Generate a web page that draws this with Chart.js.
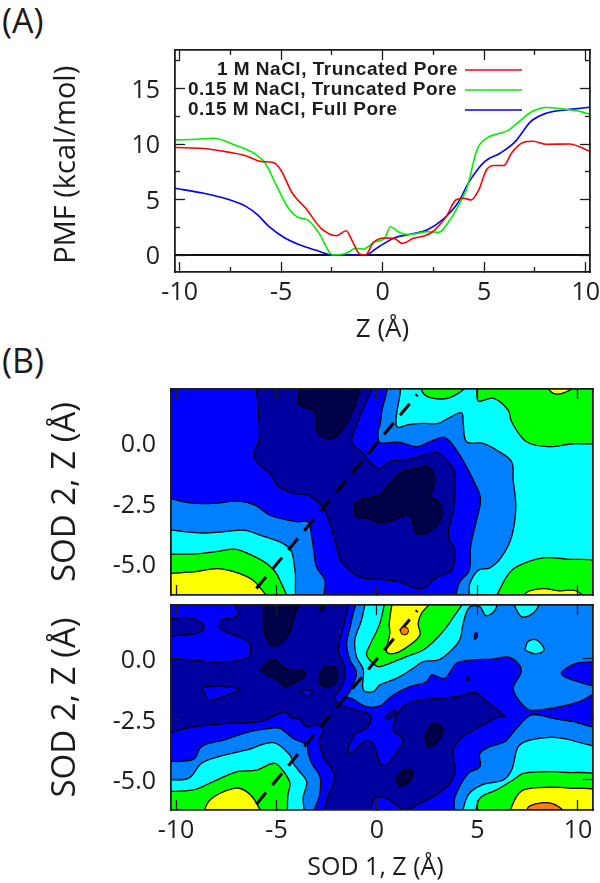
<!DOCTYPE html>
<html>
<head>
<meta charset="utf-8">
<title>PMF</title>
<script src="https://cdn.jsdelivr.net/npm/chart.js@4/dist/chart.umd.min.js"></script>
<style>
  body { margin: 0; background: #fff; }
  #page { position: relative; width: 600px; height: 883px; overflow: hidden; }
  canvas { position: absolute; left: 0; }
  .tag { position: absolute; left: 2px; font: 34px "Open Sans"; color: #1a1a1a; }
</style>
</head>
<body>
<div id="page">
  <div class="tag" style="top:-3px">(A)</div>
  <div class="tag" style="top:337px">(B)</div>
  <canvas id="pmf" style="top:0"></canvas>
  <canvas id="mapTop" style="top:345px"></canvas>
  <canvas id="mapBottom" style="top:600px"></canvas>
</div>
<script>
// panel A
const seriesNames = ['1 M NaCl, Truncated Pore', '0.15 M NaCl, Truncated Pore', '0.15 M NaCl, Full Pore'];
const pmfRed = [[-10.23,9.68],[-8.81,9.59],[-7.67,9.29],[-6.72,8.93],[-5.97,8.42],[-5.40,8.33],[-5.02,7.66],[-4.45,5.56],[-3.79,4.21],[-3.03,2.40],[-2.27,1.74],[-1.80,2.19],[-1.52,1.35],[-1.14,0.09],[-0.85,0],[-0.47,1.11],[0.09,1.53],[0.57,1.50],[0.95,1.05],[1.52,1.50],[2.18,1.80],[2.56,2.25],[3.13,3.46],[3.60,4.96],[3.98,5.11],[4.36,4.96],[4.73,5.86],[5.11,7.66],[5.49,8.06],[5.97,8.06],[6.34,9.17],[6.91,10.13],[7.39,10.25],[8.05,9.98],[9.19,10.0],[10.23,9.32]];
const pmfGreen = [[-10.23,10.37],[-9.19,10.43],[-8.33,10.52],[-7.29,9.92],[-6.34,9.17],[-5.78,8.27],[-5.21,6.16],[-4.64,4.21],[-4.17,3.40],[-3.69,3.16],[-3.13,1.95],[-2.46,0],[-1.80,0.15],[-1.33,0.60],[-0.95,0.54],[-0.38,1.20],[0.09,1.50],[0.38,2.55],[0.76,2.10],[1.14,1.86],[1.70,1.95],[2.18,2.10],[2.75,2.04],[3.31,3.16],[3.88,4.96],[4.17,6.16],[4.64,9.47],[5.11,10.52],[5.59,10.88],[6.16,11.21],[6.72,12.02],[7.29,12.86],[8.05,13.29],[9.0,13.13],[9.75,12.92],[10.23,12.65]];
const pmfBlue = [[-10.23,6.01],[-8.81,5.56],[-7.67,5.05],[-6.72,4.36],[-6.16,3.61],[-5.59,2.55],[-4.92,1.65],[-4.07,0.90],[-3.31,0.45],[-2.46,0],[-1.80,0],[-0.85,0],[-0.19,0.75],[0.66,1.59],[1.42,1.89],[2.18,2.25],[2.94,3.16],[3.69,4.66],[4.26,6.61],[5.02,8.42],[5.78,9.17],[6.53,10.22],[7.29,12.02],[8.05,12.77],[9.0,13.07],[9.75,13.22],[10.23,13.32]];
const pmfZero = [[-10.23,0],[10.21,0]];
const pmfXLabels = [-10, -5, 0, 5, 10];
const pmfXMinor = [-7.5, -2.5, 2.5, 7.5];
const pmfYLabels = [0, 5, 10, 15];
const pmfYMinor = [2.5, 7.5, 12.5, 17.5];

// panel B, shared
const mapXLabels = [-10, -5, 0, 5, 10];
const mapYLabels = [0, -2.5, -5];
const diagonal = [[-6,-6],[2,2]];
const sodMark = [[1.37,1.16]];

// panel B, upper map
const topCyan = [[-10.6,2.6],[11.1,2.6],[11.1,-6.6],[-10.6,-6.6]];
const topGreenMid = [[2.05,2.6],[2.38,1.98],[3.30,1.82],[4.04,2.05],[4.70,2.6]];
const topGreenRight = [[5.0,2.6],[5.04,1.74],[5.78,1.85],[6.53,1.36],[6.70,0.88],[7.44,0.05],[8.52,-0.15],[9.60,-0.04],[11.1,0.15],[11.1,2.6]];
const topYellowRight = [[8.27,2.6],[8.77,2.05],[9.6,2.19],[9.93,2.6]];
const topGreenLow = [[5.78,-6.6],[6.45,-5.52],[6.94,-5.11],[8.27,-4.74],[9.43,-4.79],[11.1,-5.0],[11.1,-6.6]];
const topYellowLow = [[7.28,-6.6],[7.44,-6.17],[8.27,-6.01],[9.10,-6.10],[9.93,-6.10],[10.43,-6.6]];
const topGreenLeft = [[-10.6,-4.59],[-8.81,-4.56],[-7.81,-4.46],[-7.15,-4.38],[-6.49,-4.53],[-5.49,-4.97],[-4.91,-5.52],[-4.61,-6.6],[-10.6,-6.6]];
const topYellowLeft = [[-10.6,-5.39],[-9.14,-5.32],[-7.90,-5.18],[-6.82,-5.39],[-6.07,-5.73],[-5.49,-6.6],[-10.6,-6.6]];
const topAzure = [[-10.6,-3.55],[-8.81,-3.71],[-7.65,-3.66],[-6.57,-3.60],[-5.82,-3.80],[-4.66,-4.15],[-4.25,-4.49],[-4.08,-5.25],[-3.75,-6.6],[4.42,-6.6],[4.62,-5.80],[5.04,-5.25],[5.62,-5.15],[6.20,-4.70],[6.70,-3.87],[6.91,-2.63],[6.78,-1.53],[6.70,-0.77],[5.95,-0.29],[5.29,-0.01],[4.46,0.05],[4.29,0.81],[4.21,1.25],[3.54,1.02],[3.05,0.81],[2.30,0.81],[1.64,0.77],[0.97,0.70],[0.89,2.6],[-10.6,2.6]];
const topBlue = [[-10.6,-2.22],[-9.31,-2.47],[-8.15,-2.49],[-6.90,-2.40],[-6.07,-2.56],[-5.33,-2.98],[-4.0,-3.25],[-3.42,-3.25],[-3.25,-3.87],[-3.17,-4.28],[-3.01,-5.11],[-2.59,-5.66],[-2.51,-6.6],[3.63,-6.6],[4.12,-5.73],[4.59,-5.25],[4.66,-4.28],[4.95,-3.18],[5.15,-2.29],[4.79,-1.53],[4.12,-0.50],[3.38,0.23],[2.63,0.05],[1.97,-0.15],[1.14,0.03],[0.145,0.01],[0.06,0.19],[0.06,0.54],[0.145,0.74],[0.23,1.23],[0.31,2.6],[-10.6,2.6]];
const topDark = [[-6.04,2.6],[-5.91,1.36],[-5.86,0.12],[-6.11,-0.36],[-5.99,-0.77],[-5.24,-1.32],[-4.96,-1.74],[-4.17,-2.08],[-3.42,-2.15],[-2.67,-2.70],[-2.34,-3.32],[-2.01,-4.28],[-1.76,-4.90],[-0.85,-5.52],[0.145,-5.62],[1.14,-5.73],[1.97,-6.01],[2.47,-5.94],[2.88,-5.59],[3.71,-5.25],[3.88,-4.42],[3.54,-3.87],[3.83,-2.63],[3.88,-1.32],[3.79,-1.05],[3.13,-0.43],[2.63,-0.43],[1.80,-0.63],[0.64,-0.77],[0.145,-1.05],[-0.19,-0.91],[-0.44,-0.70],[-0.68,-0.43],[-1.26,0.05],[-0.85,1.09],[-0.40,2.6]];
const topNavyUpper = [[-3.75,2.6],[-3.88,1.61],[-3.09,1.29],[-3.01,0.54],[-2.34,0.15],[-1.68,0.61],[-1.18,1.43],[-0.90,2.6]];
const topNavyLower = [[-0.68,-2.29],[-1.10,-2.56],[-1.02,-3.04],[-0.44,-3.11],[0.145,-3.28],[0.81,-3.18],[1.64,-2.98],[1.89,-3.60],[2.22,-3.77],[2.80,-3.53],[3.21,-3.04],[3.13,-2.49],[2.63,-2.15],[2.80,-1.87],[2.83,-1.32],[2.55,-0.98],[1.97,-1.05],[1.31,-1.18],[0.64,-1.67],[0.145,-2.15]];

// panel B, lower map
const lowAzure = [[-10.6,2.6],[11.1,2.6],[11.1,-6.6],[-10.6,-6.6]];
const lowCyanLeft = [[-10.6,-4.97],[-9.39,-4.93],[-8.73,-4.31],[-7.90,-4.04],[-6.49,-3.76],[-5.16,-3.46],[-4.33,-3.97],[-4.17,-4.31],[-3.92,-4.59],[-3.50,-5.07],[-3.67,-5.69],[-3.79,-6.6],[-10.6,-6.6]];
const lowGreenLeft = [[-10.6,-5.48],[-9.14,-5.41],[-8.15,-5.07],[-6.99,-4.66],[-5.99,-4.59],[-5.08,-4.31],[-4.58,-4.73],[-4.33,-5.14],[-4.42,-5.55],[-4.71,-6.6],[-10.6,-6.6]];
const lowYellowLeft = [[-8.73,-6.6],[-8.31,-5.83],[-7.07,-5.34],[-6.49,-5.48],[-5.99,-5.96],[-5.78,-6.6]];
const lowCyanRight = [[4.17,-6.6],[4.54,-5.62],[5.20,-5.21],[6.28,-5.00],[6.70,-4.59],[7.03,-3.62],[7.61,-3.35],[8.77,-3.24],[9.93,-3.42],[11.1,-3.85],[11.1,-6.6]];
const lowGreenRight = [[4.84,-6.6],[5.12,-5.76],[5.95,-5.41],[6.78,-5.00],[7.28,-4.73],[8.27,-4.66],[9.27,-4.68],[11.1,-4.9],[11.1,-6.6]];
const lowYellowRight = [[6.48,-6.6],[6.94,-5.69],[7.36,-5.39],[8.60,-5.30],[9.60,-5.34],[11.1,-5.5],[11.1,-6.6]];
const lowOrangeRight = [[7.28,-6.6],[7.61,-6.07],[8.77,-5.99],[9.51,-6.6]];
const lowCyanMid = [[-0.52,2.6],[-0.77,1.61],[-1.10,0.79],[-1.02,0.10],[-0.68,-0.45],[-0.68,-1.28],[-0.19,-1.35],[0.145,-1.07],[0.97,-0.80],[1.80,-0.39],[2.30,-0.11],[3.05,-0.04],[3.63,0.30],[4.12,0.79],[4.29,1.47],[4.59,2.13],[5.12,2.16],[5.42,1.79],[5.87,2.02],[5.95,2.6]];
const lowCyanTop = [[6.65,2.6],[7.19,1.75],[7.86,1.96],[8.10,2.6]];
const lowCyanSpot = [[7.36,0.37],[7.52,0.72],[7.94,0.79],[8.32,0.37],[7.86,0.21]];
const lowGreenMid = [[0.44,2.6],[0.145,1.47],[-0.35,0.58],[-0.52,0.17],[-0.10,-0.25],[0.145,-0.32],[0.64,-0.18],[1.47,0.10],[2.30,0.37],[3.05,0.92],[3.71,1.61],[4.29,2.6]];
const lowYellowMid = [[0.81,2.6],[0.61,1.47],[0.64,1.06],[0.48,0.30],[0.89,0.23],[1.64,0.58],[2.14,0.99],[2.05,1.47],[2.22,1.89],[2.88,2.6]];
const lowBlue = [[-10.6,-4.24],[-9.14,-4.15],[-8.73,-3.62],[-7.65,-3.35],[-6.32,-3.00],[-5.33,-2.87],[-4.83,-2.87],[-4.17,-3.28],[-3.50,-3.55],[-3.42,-3.90],[-3.25,-4.31],[-2.84,-4.86],[-2.84,-5.55],[-3.06,-6.6],[3.66,-6.6],[3.88,-5.69],[4.54,-4.73],[5.12,-4.45],[5.12,-3.90],[5.62,-3.62],[6.36,-3.42],[6.94,-2.87],[7.69,-2.31],[8.77,-2.45],[9.76,-2.59],[11.1,-2.75],[11.1,-1.39],[10.09,-1.76],[8.93,-2.00],[7.61,-2.11],[7.11,-1.76],[6.78,-1.21],[7.19,-0.45],[6.61,0.07],[5.78,-0.01],[4.79,-0.04],[3.96,-0.18],[3.38,-0.80],[2.72,-0.66],[2.47,-0.94],[1.64,-1.14],[0.81,-1.49],[0.145,-1.94],[-0.52,-1.97],[-1.26,-1.63],[-1.51,-1.56],[-1.35,-1.35],[-1.02,-0.59],[-1.35,-0.04],[-1.51,0.65],[-1.26,1.61],[-1.21,2.6],[-10.6,2.6]];
const lowBlueEdge = [[11.1,-0.11],[9.93,-0.18],[9.18,-0.59],[9.76,-0.87],[11.1,-1.07]];
const lowBlueSpeck = [[4.84,0.99],[4.95,1.09],[5.0,0.95],[4.87,0.81]];
const lowDark = [[-10.6,0.03],[-9.14,-0.04],[-7.98,-0.14],[-6.49,0.03],[-6.29,0.30],[-6.41,0.72],[-7.81,1.27],[-7.73,1.61],[-6.90,1.82],[-7.07,2.6],[-1.56,2.6],[-1.56,1.75],[-1.93,0.37],[-1.60,-0.32],[-1.68,-1.01],[-2.09,-1.56],[-1.93,-1.83],[-1.02,-2.11],[-0.35,-2.31],[-0.44,-2.80],[-1.02,-3.07],[-1.35,-3.49],[-1.43,-3.83],[-1.18,-3.83],[-0.68,-3.42],[-0.19,-3.49],[0.145,-4.31],[0.48,-4.38],[0.81,-4.04],[1.31,-3.35],[0.81,-2.93],[1.14,-2.11],[1.80,-1.76],[2.96,-1.63],[3.96,-1.56],[4.87,-1.38],[5.45,-1.76],[6.36,-2.38],[5.95,-2.41],[5.12,-2.80],[4.29,-3.21],[3.79,-3.76],[3.88,-4.73],[3.30,-5.41],[2.14,-5.96],[1.39,-6.24],[0.64,-5.83],[0.145,-5.69],[-0.19,-5.83],[-0.52,-6.6],[-2.51,-6.6],[-2.51,-5.83],[-2.09,-4.86],[-2.67,-4.04],[-2.87,-3.35],[-2.67,-2.87],[-3.01,-2.73],[-3.50,-2.80],[-3.92,-2.45],[-4.25,-2.45],[-4.58,-2.18],[-5.82,-2.59],[-7.48,-2.66],[-9.14,-2.80],[-10.6,-2.93]];
const lowBlueLens = [[-8.69,-1.17],[-7.90,-1.12],[-6.85,-1.25],[-7.48,-1.49],[-8.31,-1.70],[-8.56,-1.49]];
const lowBlueTiny = [[-3.83,-1.35],[-3.50,-1.28],[-3.20,-1.39],[-3.50,-1.52]];
const lowDarkCorner = [[-10.6,1.62],[-9.47,1.72],[-8.81,1.54],[-8.59,1.31],[-8.98,1.06],[-9.80,0.99],[-10.6,0.98]];
const lowDarkLens = [[0.39,-2.41],[0.73,-2.14],[0.97,-2.18],[0.73,-2.41],[0.48,-2.52]];
const lowDarkSpeck = [[4.42,-0.84],[4.56,-0.73],[4.56,-0.87]];
const lowNavyTop = [[-5.63,2.6],[-5.63,1.27],[-5.41,0.72],[-5.08,0.54],[-4.42,0.99],[-4.17,1.61],[-3.92,2.6]];
const lowNavyNotch = [[-3.01,2.6],[-2.76,1.98],[-2.54,2.6]];
const lowNavyBlobA = [[-5.78,-0.45],[-5.41,-0.11],[-4.99,-0.08],[-4.58,-0.39],[-3.75,-0.48],[-3.55,-0.66],[-4.17,-1.01],[-4.58,-1.14],[-4.91,-0.87],[-5.49,-0.66]];
const lowNavyBlobB = [[-2.87,-0.76],[-2.67,-0.39],[-2.18,-0.29],[-1.96,-0.59],[-2.09,-1.01],[-2.51,-1.14],[-2.84,-1.01]];
const lowNavyBlobC = [[2.38,-3.21],[2.63,-2.80],[3.05,-2.69],[3.26,-2.93],[2.96,-3.49],[2.55,-3.62]];
const lowNavyBlobD = [[0.97,-4.93],[1.31,-4.59],[1.72,-4.59],[1.77,-4.86],[1.39,-5.21],[1.06,-5.23]];

const NAVY = '#000048', DARK = '#0000a0', BLUE = '#0000ff', AZURE = '#0080ff';
const CYAN = '#00ffff', GREEN = '#00ff00', YELLOW = '#ffff00', ORANGE = '#ff8000';
const RED_LINE = '#ff0000', GREEN_LINE = '#00f000', BLUE_LINE = '#0000ff';
const INK = '#1c1c1c';
const LABEL_FONT = '"Open Sans"';

function points(pairs) {
  return pairs.map(function(p) { return {x: p[0], y: p[1]}; });
}

// closed filled contour, black outline.
function region(pairs, color, straight) {
  return {
    data: points(pairs.concat([pairs[0]])),
    showLine: true,
    fill: 'shape',
    backgroundColor: color,
    borderColor: '#000',
    borderWidth: 1.3,
    pointRadius: 0,
    tension: straight ? 0 : 0.35,
    capBezierPoints: false
  };
}

function curve(pairs, color, width) {
  return {
    data: points(pairs),
    showLine: true,
    fill: false,
    borderColor: color,
    borderWidth: width,
    pointRadius: 0,
    cubicInterpolationMode: 'monotone'
  };
}

function diagonalDash() {
  var d = curve(diagonal, '#000', 3);
  d.borderDash = [15, 10];
  return d;
}

// the library paints the first dataset last, so give them bottom to top and flip.
function paintOrder(list) {
  return list.slice().reverse();
}

// zero-size axis that only carries the frame line and inward tick marks.
function frameAxis(axis, position, range, ticks, length, border) {
  return {
    axis: axis,
    type: 'linear',
    position: position,
    weight: 0,
    min: range[0],
    max: range[1],
    afterBuildTicks: function(s) { s.ticks = ticks.map(function(v) { return {value: v}; }); },
    afterFit: function(s) {
      if (axis == 'x') { s.height = 0; } else { s.width = 0; }
      s.paddingLeft = s.paddingRight = s.paddingTop = s.paddingBottom = 0;
    },
    ticks: {display: false},
    grid: {drawOnChartArea: false, drawTicks: true, tickLength: -length, tickColor: INK, tickWidth: 1.3, z: 2},
    border: {display: border, color: INK, width: 1.8, z: 2}
  };
}

// axis that holds the numbers and the title, fixed outer size.
function labelAxis(axis, position, range, ticks, size, format, padding, title, titleGap, titleSize) {
  return {
    axis: axis,
    type: 'linear',
    position: position,
    weight: 1,
    min: range[0],
    max: range[1],
    afterBuildTicks: function(s) { s.ticks = ticks.map(function(v) { return {value: v}; }); },
    afterFit: function(s) {
      if (axis == 'x') { s.height = size; } else { s.width = size; }
      s.paddingLeft = s.paddingRight = s.paddingTop = s.paddingBottom = 0;
    },
    ticks: {
      display: format !== null,
      autoSkip: false,
      maxRotation: 0,
      padding: padding,
      labelOffset: axis == 'y' ? 2 : 0,
      color: INK,
      font: {family: LABEL_FONT, size: 25},
      callback: format || function() { return ''; }
    },
    grid: {display: false, drawTicks: false},
    border: {display: false},
    title: {
      display: !!title,
      text: title,
      color: INK,
      font: {family: LABEL_FONT, size: titleSize},
      padding: axis == 'x' ? {top: 0, bottom: titleGap} : {top: titleGap, bottom: 0}
    }
  };
}

// key of panel A: text written like gnuplot does, sample line on the right.
const pmfKey = {
  id: 'pmfKey',
  afterDatasetsDraw: function(chart) {
    var ctx = chart.ctx;
    var rows = [
      {y: 70, x: 458, align: 'right'},
      {y: 90, x: 188, align: 'left'},
      {y: 110, x: 188, align: 'left'}
    ];
    ctx.save();
    ctx.font = 'bold 19px "Liberation Sans"';
    ctx.letterSpacing = '0.5px';
    ctx.fillStyle = INK;
    ctx.textBaseline = 'middle';
    rows.forEach(function(row, i) {
      ctx.textAlign = row.align;
      ctx.fillText(seriesNames[i], row.x, row.y);
      ctx.strokeStyle = [RED_LINE, GREEN_LINE, BLUE_LINE][i];
      ctx.lineWidth = 1.6;
      ctx.beginPath();
      ctx.moveTo(465, row.y);
      ctx.lineTo(522, row.y);
      ctx.stroke();
    });
    ctx.restore();
  }
};

function makeChart(id, height, padding, datasets, scales, plugins) {
  var canvas = document.getElementById(id);
  canvas.width = 600;
  canvas.height = height;
  return new Chart(canvas, {
    type: 'scatter',
    data: {datasets: datasets},
    options: {
      responsive: false,
      animation: false,
      devicePixelRatio: 1,
      layout: {padding: padding},
      plugins: {legend: {display: false}, tooltip: {enabled: false}},
      scales: scales
    },
    plugins: plugins || []
  });
}

// panel A
var pmfX = [-10.23, 10.21], pmfY = [-1.53, 18.47];
makeChart('pmf', 345, {top: 50, right: 10, left: 0, bottom: 0}, paintOrder([
  curve(pmfZero, '#111', 1.8),
  curve(pmfBlue, BLUE_LINE, 1.6),
  curve(pmfGreen, GREEN_LINE, 1.6),
  curve(pmfRed, RED_LINE, 1.6)
]), {
  x: labelAxis('x', 'bottom', pmfX, pmfXLabels, 73, function(v) { return String(v); }, 6, 'Z (Å)', 0, 26),
  y: labelAxis('y', 'left', pmfY, pmfYLabels, 175, function(v) { return String(v); }, 15, 'PMF (kcal/mol)\u00a0', 49, 29),
  xb1: frameAxis('x', 'bottom', pmfX, pmfXLabels, 10, true),
  xb2: frameAxis('x', 'bottom', pmfX, pmfXMinor, 5, false),
  xt1: frameAxis('x', 'top', pmfX, pmfXLabels, 10, true),
  xt2: frameAxis('x', 'top', pmfX, pmfXMinor, 5, false),
  yl1: frameAxis('y', 'left', pmfY, pmfYLabels, 10, true),
  yl2: frameAxis('y', 'left', pmfY, pmfYMinor, 5, false),
  yr1: frameAxis('y', 'right', pmfY, pmfYLabels, 10, true),
  yr2: frameAxis('y', 'right', pmfY, pmfYMinor, 5, false)
}, [pmfKey]);

// panel B, upper
var mapX = [-10.25, 10.75], topY = [-6.27, 2.23];
makeChart('mapTop', 255, {top: 44, right: 7, left: 0, bottom: 0}, paintOrder([
  region(topCyan, CYAN, true),
  region(topGreenMid, GREEN),
  region(topGreenRight, GREEN),
  region(topYellowRight, YELLOW),
  region(topGreenLow, GREEN),
  region(topYellowLow, YELLOW),
  region(topGreenLeft, GREEN),
  region(topYellowLeft, YELLOW),
  region(topAzure, AZURE),
  region(topBlue, BLUE),
  region(topDark, DARK),
  region(topNavyUpper, NAVY),
  region(topNavyLower, NAVY),
  diagonalDash()
]), {
  x: labelAxis('x', 'bottom', mapX, mapXLabels, 5, null, 0, '', 0, 25),
  y: labelAxis('y', 'left', topY, mapYLabels, 171, function(v) { return v.toFixed(1); }, 15, 'SOD 2, Z (Å)', 46, 33),
  xb: frameAxis('x', 'bottom', mapX, mapXLabels, 10, true),
  xt: frameAxis('x', 'top', mapX, mapXLabels, 10, true),
  yl: frameAxis('y', 'left', topY, [], 10, true),
  yr: frameAxis('y', 'right', topY, [], 10, true)
});

// panel B, lower
var lowY = [-6.24, 2.23];
var mark = curve(sodMark, ORANGE, 1);
mark.showLine = false;
mark.pointRadius = 4;
mark.pointBackgroundColor = ORANGE;
mark.pointBorderColor = '#000';
mark.pointBorderWidth = 1;
makeChart('mapBottom', 283, {top: 5, right: 7, left: 0, bottom: 0}, paintOrder([
  region(lowAzure, AZURE, true),
  region(lowCyanLeft, CYAN),
  region(lowGreenLeft, GREEN),
  region(lowYellowLeft, YELLOW),
  region(lowCyanRight, CYAN),
  region(lowGreenRight, GREEN),
  region(lowYellowRight, YELLOW),
  region(lowOrangeRight, ORANGE),
  region(lowCyanMid, CYAN),
  region(lowCyanTop, CYAN),
  region(lowCyanSpot, CYAN),
  region(lowGreenMid, GREEN),
  region(lowYellowMid, YELLOW),
  region(lowBlue, BLUE),
  region(lowBlueEdge, BLUE),
  region(lowBlueSpeck, BLUE),
  region(lowDark, DARK),
  region(lowBlueLens, BLUE),
  region(lowBlueTiny, BLUE),
  region(lowDarkCorner, DARK),
  region(lowDarkLens, DARK),
  region(lowDarkSpeck, DARK),
  region(lowNavyTop, NAVY),
  region(lowNavyNotch, NAVY),
  region(lowNavyBlobA, NAVY),
  region(lowNavyBlobB, NAVY),
  region(lowNavyBlobC, NAVY),
  region(lowNavyBlobD, NAVY),
  diagonalDash(),
  mark
]), {
  x: labelAxis('x', 'bottom', mapX, mapXLabels, 73, function(v) { return String(v); }, 6, 'SOD 1, Z (Å)\u00a0\u00a0', 0, 25),
  y: labelAxis('y', 'left', lowY, mapYLabels, 171, function(v) { return v.toFixed(1); }, 15, 'SOD 2, Z (Å)', 46, 33),
  xb: frameAxis('x', 'bottom', mapX, mapXLabels, 10, true),
  xt: frameAxis('x', 'top', mapX, mapXLabels, 10, true),
  yl: frameAxis('y', 'left', lowY, mapYLabels, 10, true),
  yr: frameAxis('y', 'right', lowY, mapYLabels, 10, true)
});
</script>
</body>
</html>
